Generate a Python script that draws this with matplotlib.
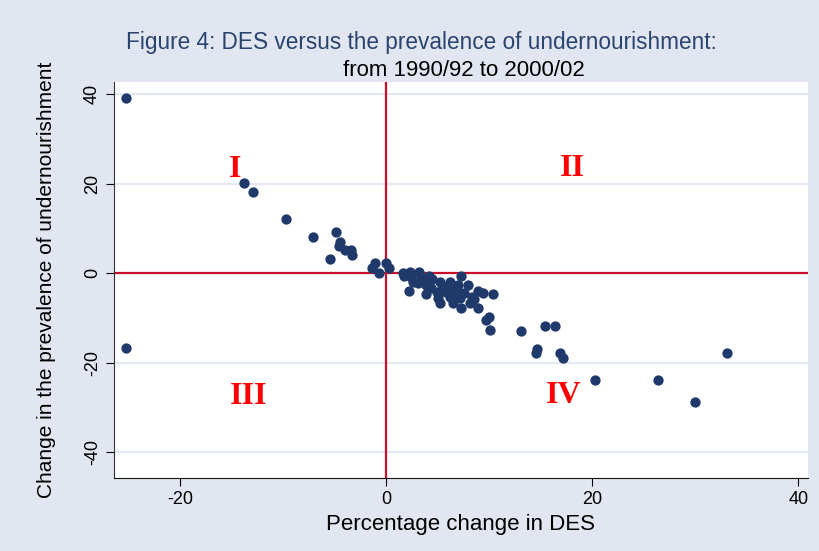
import matplotlib
matplotlib.use("Agg")
import matplotlib.pyplot as plt

plt.rcParams["axes.unicode_minus"] = False

# percentage change in DES vs change in prevalence of undernourishment
des_change = [-25.2, -25.2, -13.8, -12.9, -9.7, -7.05, -4.85, -4.5, -4.6, -4.0, -3.4, -3.3,
              -5.4, -1.1, -1.35, -0.7, 0.0, 0.3,
              1.6, 1.7, 2.3, 2.4, 3.2, 3.4, 4.2, 2.6, 3.1, 3.9, 2.2, 5.25, 6.2, 7.3, 7.0, 7.9,
              3.9, 4.9, 5.8, 6.8, 7.6, 8.9, 9.4, 10.4, 8.3, 6.2, 5.2, 6.5, 7.3, 8.1, 8.9,
              4.5, 5.5, 6.0, 7.2, 8.5, 3.6, 4.4, 6.9, 5.0,
              9.7, 10.0, 10.1, 13.1, 15.4, 16.4, 14.6, 14.5, 16.9, 17.2, 20.3, 26.35, 30.0, 33.1]
pou_change = [39.2, -16.7, 20.2, 18.1, 12.1, 8.2, 9.2, 7.1, 6.2, 5.2, 5.2, 4.2,
              3.2, 2.2, 1.3, 0.1, 2.2, 1.2,
              0.1, -0.6, 0.3, -0.8, 0.3, -0.8, -0.6, -1.9, -2.2, -2.6, -3.9, -1.9, -1.9, -0.6, -2.6, -2.6,
              -4.6, -4.1, -4.1, -3.7, -4.3, -3.9, -4.5, -4.6, -5.2, -5.2, -6.7, -6.7, -7.8, -6.7, -7.8,
              -1.2, -3.0, -3.3, -5.5, -5.8, -1.5, -3.2, -4.8, -5.6,
              -10.4, -9.8, -12.7, -12.9, -11.8, -11.8, -16.8, -17.9, -17.7, -18.9, -23.8, -23.8, -28.8, -17.9]

quadrant_labels = ["I", "II", "III", "IV"]
quadrant_x = [-14.6, 18.1, -13.3, 17.2]
quadrant_y = [23.2, 23.5, -27.4, -27.2]

bg = "#e1e6f0"
fig = plt.figure(figsize=(8.2, 5.51), dpi=100, facecolor=bg)
ax = fig.add_axes([0.139, 0.1325, 0.846, 0.7185])
ax.set_facecolor("white")

ax.set_xlim(-26.4, 40.9)
ax.set_ylim(-45.7, 42.7)
ax.set_xticks([-20, 0, 20, 40])
ax.set_yticks([-40, -20, 0, 20, 40])
ax.yaxis.grid(True, color="#e3e8f2", lw=1.6)
ax.set_axisbelow(True)

for s in ["top", "right"]:
    ax.spines[s].set_visible(False)
ax.spines["left"].set_color("#333333")
ax.spines["bottom"].set_color("#111111")

ax.axhline(0, color="#c8102e", lw=1.6, zorder=2)
ax.axvline(0, color="#c8102e", lw=1.6, zorder=2)

ax.scatter(des_change, pou_change, s=55, color="#1f3a6a", zorder=3, linewidths=0)

for lab, x, y in zip(quadrant_labels, quadrant_x, quadrant_y):
    ax.text(x, y, lab, color="red", fontsize=23, fontweight="bold", family="Liberation Serif",
            ha="center", va="center", zorder=4)

ax.tick_params(axis="both", direction="out", length=6, labelsize=13)
for t in ax.get_xticklabels() + ax.get_yticklabels():
    t.set_family("Liberation Sans")
plt.setp(ax.get_yticklabels(), rotation=90, va="center")

ax.set_xlabel("Percentage change in DES", fontsize=16, family="Liberation Sans", labelpad=4)
ax.set_ylabel("Change in the prevalence of undernourishment", fontsize=15, family="Liberation Sans", labelpad=20)

fig.text(0.514, 0.922, "Figure 4: DES versus the prevalence of undernourishment:", color="#2a4470",
         fontsize=16.3, family="Liberation Sans", ha="center", va="center")
fig.text(0.566, 0.872, "from 1990/92 to 2000/02", color="black",
         fontsize=16, family="Liberation Sans", ha="center", va="center")

fig.savefig("out.png", dpi=100, facecolor=bg)
